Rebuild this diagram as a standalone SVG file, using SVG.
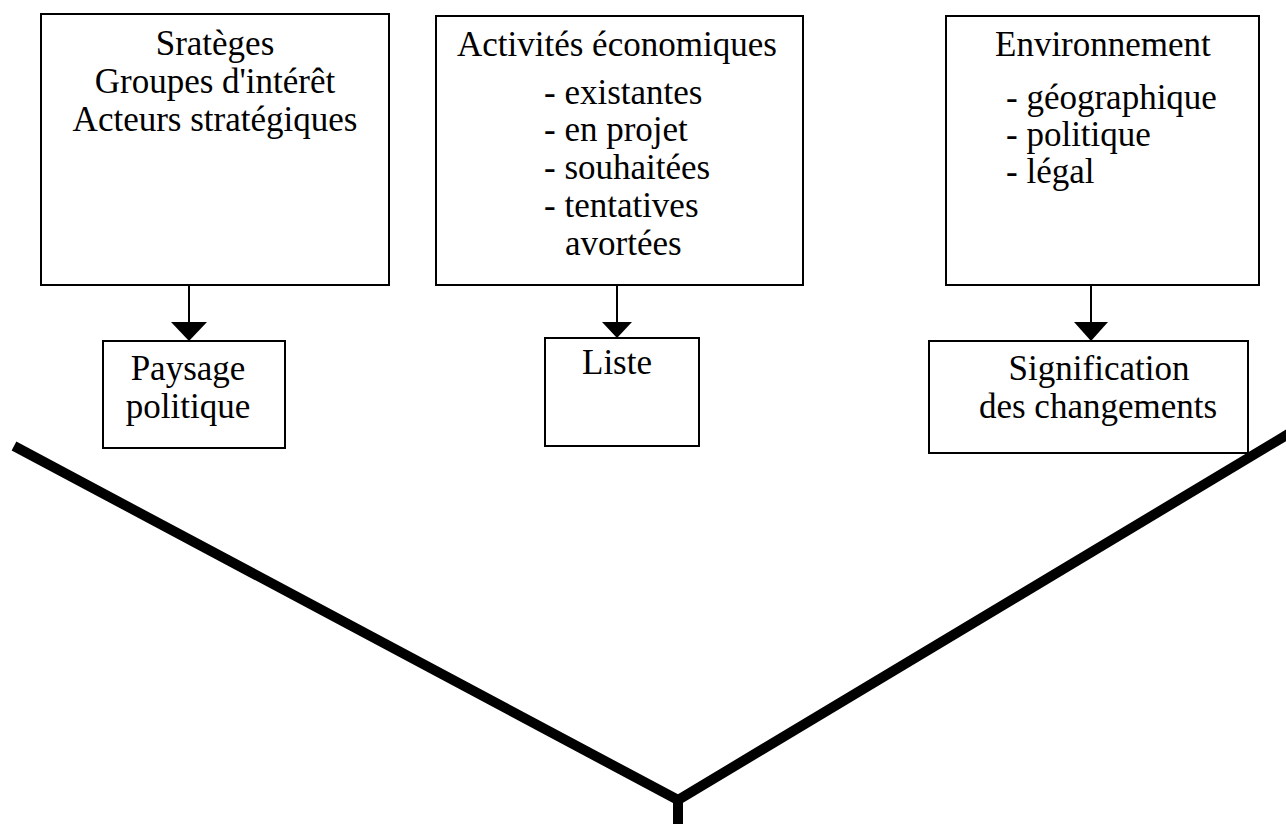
<svg xmlns="http://www.w3.org/2000/svg" width="1286" height="824" viewBox="0 0 1286 824">
<defs>
<style>
.box{fill:#fff;stroke:#000;stroke-width:2}
.t{font-family:"Liberation Serif","Times New Roman",serif;font-size:35px;fill:#000}
.c{text-anchor:middle}
.arr{stroke:#000;stroke-width:2;fill:none}
.head{fill:#000}
.v{stroke:#000;stroke-width:10;fill:none;stroke-linejoin:miter}
</style>
</defs>
<rect width="1286" height="824" fill="#fff"/>
<g id="connectors">
<line class="arr" x1="189" y1="285" x2="189" y2="324"/>
<polygon class="head" points="171,322 207,322 189,341"/>
<line class="arr" x1="617" y1="285" x2="617" y2="324"/>
<polygon class="head" points="602,322 632,322 617,338"/>
<line class="arr" x1="1091" y1="285" x2="1091" y2="324"/>
<polygon class="head" points="1074,322 1108,322 1091,341"/>
<polyline class="v" points="14,446 678,800 1290,433"/>
<line class="v" x1="678" y1="798" x2="678" y2="826" stroke-width="8"/>
</g>
<g id="node-strateges">
<rect class="box" x="41" y="14" width="348" height="271"/>
<text class="t c" x="215" y="55">Sratèges</text>
<text class="t c" x="215" y="93">Groupes d'intérêt</text>
<text class="t c" x="215" y="131">Acteurs stratégiques</text>
</g>
<g id="node-activites">
<rect class="box" x="436" y="16" width="367" height="269"/>
<text class="t" x="457" y="56">Activités économiques</text>
<text class="t" x="544" y="104">- existantes</text>
<text class="t" x="544" y="141">- en projet</text>
<text class="t" x="544" y="179">- souhaitées</text>
<text class="t" x="544" y="217">- tentatives</text>
<text class="t" x="565" y="255">avortées</text>
</g>
<g id="node-environnement">
<rect class="box" x="946" y="16" width="313" height="269"/>
<text class="t" x="995" y="56">Environnement</text>
<text class="t" x="1006" y="109">- géographique</text>
<text class="t" x="1006" y="146">- politique</text>
<text class="t" x="1006" y="183">- légal</text>
</g>
<g id="node-paysage">
<rect class="box" x="103" y="341" width="182" height="107"/>
<text class="t c" x="188" y="380">Paysage</text>
<text class="t c" x="188" y="418">politique</text>
</g>
<g id="node-liste">
<rect class="box" x="545" y="338" width="154" height="108"/>
<text class="t c" x="617" y="374">Liste</text>
</g>
<g id="node-signification">
<rect class="box" x="929" y="341" width="319" height="112"/>
<text class="t c" x="1099" y="380">Signification</text>
<text class="t c" x="1098" y="418">des changements</text>
</g>
</svg>
